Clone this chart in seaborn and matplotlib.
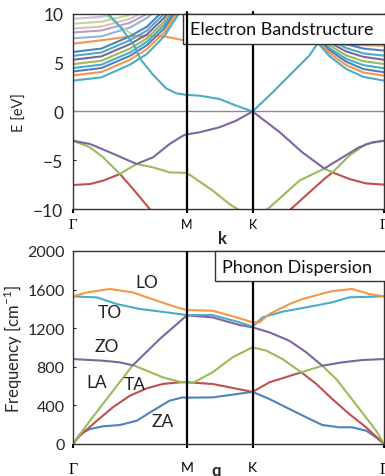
import matplotlib
matplotlib.use("Agg")
import matplotlib.pyplot as plt
from matplotlib.patches import Rectangle
import pandas as pd
import seaborn as sns

# high-symmetry path (graphene) : Gamma - M - K - Gamma
K_TICKS = [0.0, 1.0, 1.577, 2.732]
K_LABELS = ["Γ", "M", "K", "Γ"]

# ---- electron bands (eV) ----
val_top_k = [0, 0.149, 0.324, 0.558, 0.703, 0.849, 0.966, 1.0, 1.112, 1.287, 1.433, 1.577,
             1.813, 2.014, 2.207, 2.367, 2.513, 2.630, 2.732]
val_top_e = [-3.0, -3.33, -4.19, -5.38, -4.70, -3.33, -2.48, -2.35, -2.13, -1.62, -0.94, 0.0,
             -2.1, -4.19, -5.85, -4.70, -3.67, -3.16, -3.0]

val_mid_k = [0, 0.149, 0.265, 0.412, 0.558, 0.703, 0.849, 1.0, 1.051, 1.226, 1.375, 1.445, 1.577,
             1.710, 1.842, 1.988, 2.207, 2.279, 2.426, 2.572, 2.732]
val_mid_e = [-3.0, -3.67, -4.70, -6.41, -5.38, -5.73, -6.24, -6.3, -6.7, -8.1, -9.5, -10.0, -11.3,
             -10.0, -8.63, -7.09, -5.85, -6.24, -4.53, -3.33, -3.0]

val_low_k = [0, 0.149, 0.265, 0.412, 0.528, 0.674, 0.8, 1.0, 1.577, 1.8, 1.914, 2.060, 2.207,
             2.279, 2.426, 2.572, 2.732]
val_low_e = [-7.54, -7.44, -7.09, -6.41, -7.95, -10.0, -11.8, -13.5, -14.0, -11.2, -10.0, -8.46,
             -6.92, -6.24, -6.92, -7.37, -7.5]

pi_star_k = [0.2, 0.31, 0.42, 0.53, 0.59, 0.70, 0.82, 0.91, 1.0, 1.112, 1.287, 1.433, 1.577,
             1.754, 1.929, 2.075, 2.134, 2.25, 2.4]
pi_star_e = [11.3, 10.0, 8.6, 6.9, 5.4, 3.8, 2.35, 1.85, 1.7, 1.62, 1.28, 0.6, 0.0,
             1.97, 4.02, 5.72, 6.75, 8.3, 10.3]

faint_k = [0.2, 0.3, 0.42, 0.53, 0.62]
faint_e = [10.6, 9.8, 8.7, 7.8, 7.6]

cb_k = [0, 0.25, 0.5, 0.65, 0.8, 0.95, 1.2, 1.577, 1.9, 2.1, 2.25, 2.4, 2.55, 2.732]
cb1 = [3.16, 3.5, 4.8, 5.9, 7.7, 10.4, 13, 14, 11.5, 7.7, 5.7, 4.35, 3.55, 3.16]
cb2 = [3.7, 4.05, 5.3, 6.4, 8.1, 10.8, 13, 14, 11.6, 7.9, 6.0, 4.75, 4.0, 3.67]
cb3 = [4.1, 4.45, 5.7, 6.8, 8.5, 11.1, 13, 14, 11.7, 8.1, 6.3, 5.1, 4.35, 4.02]
cb4 = [4.45, 4.8, 6.05, 7.15, 8.85, 11.4, 13, 14, 11.8, 8.3, 6.5, 5.4, 4.75, 4.43]
cb5 = [4.85, 5.2, 6.45, 7.5, 9.2, 11.7, 13, 14, 11.9, 8.5, 6.8, 5.75, 5.15, 4.87]
cb6 = [5.3, 5.65, 6.9, 7.9, 9.6, 12.0, 13, 14, 12.0, 8.7, 7.1, 6.15, 5.6, 5.3]
cb7 = [5.7, 6.05, 7.3, 8.3, 10.0, 12.3, 13, 14, 12.1, 8.9, 7.4, 6.5, 5.95, 5.72]
cb8 = [6.1, 6.45, 7.7, 8.7, 10.4, 12.6, 13, 14, 12.2, 9.1, 7.7, 6.9, 6.45, 6.24]
cb9 = [6.95, 7.3, 7.7, 7.78, 7.7, 7.35, 7.1, 7.0, 7.1, 7.0, 6.9, 6.85, 6.8, 6.75]
cb10 = [7.5, 7.7, 8.6, 9.6, 11.0, 13, 14, 14, 13, 11, 9.5, 8.5, 7.8, 7.5]
cb11 = [8.1, 8.3, 9.1, 10.0, 11.5, 13.5, 14, 14, 13, 11.5, 10, 9.0, 8.4, 8.1]
cb12 = [8.5, 8.7, 9.5, 10.4, 12.0, 13.8, 14, 14, 13, 12, 10.5, 9.5, 8.8, 8.5]
cb13 = [9.0, 9.2, 9.9, 10.8, 12.5, 14, 14, 14, 13.5, 12.5, 11, 10, 9.3, 9.0]
cb14 = [9.5, 9.7, 10.4, 11.3, 13.0, 14, 14, 14, 14, 13, 11.5, 10.5, 9.8, 9.5]

# ---- phonon branches (cm^-1) ----
za_k = [0, 0.061, 0.149, 0.263, 0.412, 0.560, 0.701, 0.849, 0.963, 1.0, 1.226, 1.577,
        1.725, 1.900, 2.049, 2.189, 2.338, 2.452, 2.574, 2.662, 2.732]
za_w = [0, 104, 155, 183, 197, 241, 345, 449, 483, 480, 483, 540,
        466, 363, 276, 197, 173, 173, 138, 69, 0]

ta_k = [0, 0.061, 0.210, 0.350, 0.499, 0.648, 0.788, 0.937, 1.0, 1.226, 1.577,
        1.725, 2.005, 2.137, 2.277, 2.426, 2.574, 2.732]
ta_w = [0, 86, 241, 380, 500, 577, 622, 639, 640, 622, 540,
        639, 743, 622, 466, 311, 173, 0]

la_k = [0, 0.149, 0.324, 0.525, 0.648, 0.788, 0.937, 1.0, 1.051, 1.226, 1.401, 1.577,
        1.699, 1.839, 2.005, 2.189, 2.312, 2.426, 2.539, 2.662, 2.732]
la_w = [0, 241, 509, 818, 760, 691, 645, 638, 632, 743, 898, 1002,
        967, 881, 743, 811, 673, 500, 328, 138, 0]

zo_k = [0, 0.263, 0.412, 0.525, 0.762, 1.0, 1.226, 1.462, 1.577,
        1.725, 1.900, 2.049, 2.189, 2.364, 2.539, 2.732]
zo_w = [880, 863, 846, 815, 1088, 1333, 1312, 1233, 1209,
        1157, 1070, 950, 811, 846, 870, 880]

to_k = [0, 0.210, 0.385, 0.587, 0.823, 1.0, 1.226, 1.462, 1.577,
        1.664, 1.839, 2.049, 2.277, 2.426, 2.732]
to_w = [1530, 1519, 1450, 1399, 1364, 1336, 1336, 1261, 1215,
        1312, 1371, 1416, 1468, 1520, 1530]

lo_k = [0, 0.123, 0.324, 0.525, 0.736, 0.911, 1.0, 1.226, 1.436, 1.577,
        1.638, 1.725, 1.900, 2.014, 2.277, 2.452, 2.601, 2.732]
lo_w = [1530, 1571, 1606, 1571, 1485, 1416, 1388, 1381, 1312, 1261,
        1261, 1347, 1450, 1502, 1585, 1606, 1554, 1530]

BLUE, RED, GREEN, PURPLE, AQUA, ORANGE = "#4F81BD", "#C0504D", "#9BBB59", "#8064A2", "#4BACC6", "#F79646"

electron_bands = {
    "cb14": (cb_k, cb14), "cb13": (cb_k, cb13), "cb12": (cb_k, cb12), "cb11": (cb_k, cb11),
    "cb10": (cb_k, cb10), "faint": (faint_k, faint_e),
    "cb9": (cb_k, cb9), "cb8": (cb_k, cb8), "cb7": (cb_k, cb7), "cb6": (cb_k, cb6),
    "cb5": (cb_k, cb5), "cb4": (cb_k, cb4), "cb3": (cb_k, cb3), "cb2": (cb_k, cb2),
    "cb1": (cb_k, cb1), "pi*": (pi_star_k, pi_star_e),
    "v3": (val_low_k, val_low_e), "v2": (val_mid_k, val_mid_e), "v1": (val_top_k, val_top_e),
}
electron_colors = {
    "cb14": "#CCC1DA", "cb13": "#C3D69B", "cb12": "#E6B9B8", "cb11": "#B3A2C7",
    "cb10": "#95B3D7", "faint": "#C3D69B",
    "cb9": ORANGE, "cb8": BLUE, "cb7": AQUA, "cb6": PURPLE, "cb5": GREEN,
    "cb4": AQUA, "cb3": BLUE, "cb2": ORANGE, "cb1": AQUA, "pi*": AQUA,
    "v3": RED, "v2": GREEN, "v1": PURPLE,
}

phonon_branches = {
    "ZA": (za_k, za_w), "TA": (ta_k, ta_w), "LA": (la_k, la_w),
    "ZO": (zo_k, zo_w), "TO": (to_k, to_w), "LO": (lo_k, lo_w),
}
phonon_colors = {"ZA": BLUE, "TA": RED, "LA": GREEN, "ZO": PURPLE, "TO": AQUA, "LO": ORANGE}


def to_frame(bands, ycol):
    rows = []
    for name, (ks, ys) in bands.items():
        for k, y in zip(ks, ys):
            rows.append({"k": k, ycol: y, "band": name})
    return pd.DataFrame(rows)


def style_axes(ax, labelpad_x, gamma_size, ks_size):
    for s in ax.spines.values():
        s.set_color("#333333")
        s.set_linewidth(1.0)
    ax.set_xlim(K_TICKS[0], K_TICKS[-1])
    ax.set_xticks(K_TICKS, K_LABELS)
    ax.tick_params(axis="x", bottom=True, direction="out", length=3, width=1.5,
                   pad=labelpad_x, labelsize=ks_size, colors="black")
    ax.tick_params(axis="y", left=True, direction="in", length=2, width=0.8)
    for lbl in ax.get_xticklabels():
        if lbl.get_text() == "Γ":
            lbl.set_fontfamily("Liberation Serif")
            lbl.set_fontsize(gamma_size)


def add_title_box(ax, x0, y0, text, tx, ty):
    ax.add_patch(Rectangle((x0, y0), 1.2 - x0, 1.0 - y0, transform=ax.transAxes,
                           facecolor="white", edgecolor="#333333", lw=1.0,
                           zorder=5, clip_on=False))
    ax.text(tx, ty, text, transform=ax.transAxes, ha="left", va="center",
            fontsize=13, color="#111111", zorder=7)


sns.set_theme(style="white")
plt.rcParams["font.family"] = ["Lato", "DejaVu Sans"]
plt.rcParams["mathtext.fontset"] = "custom"
plt.rcParams["mathtext.rm"] = "Lato"

fig = plt.figure(figsize=(3.85, 4.77), dpi=100)
ax1 = fig.add_axes([0.1896, 0.5597, 0.808, 0.409])
ax2 = fig.add_axes([0.1896, 0.0671, 0.808, 0.4046])

# electron bandstructure
ax1.axhline(0, color="#8c8c8c", lw=1.0, zorder=1)
sns.lineplot(data=to_frame(electron_bands, "E"), x="k", y="E", hue="band",
             palette=electron_colors, hue_order=list(electron_bands),
             estimator=None, sort=False, legend=False, linewidth=1.5, ax=ax1)
ax1.set_ylim(-10, 10)
ax1.set_yticks([-10, -5, 0, 5, 10])
ax1.tick_params(axis="y", labelsize=12.5, pad=7)
style_axes(ax1, 3.5, 10.5, 9)
ax1.axvline(K_TICKS[1], ymax=1.012, color="black", lw=1.6, zorder=6, clip_on=False)
ax1.axvline(K_TICKS[2], ymax=1.012, color="black", lw=1.6, zorder=3, clip_on=False)
add_title_box(ax1, 0.354, 0.846, "Electron Bandstructure", 0.376, 0.922)
ax1.set_xlabel("k", fontweight="bold", fontsize=12)
ax1.xaxis.set_label_coords(0.481, -0.11)
ax1.set_ylabel("E [eV]", fontsize=10.5)
ax1.yaxis.set_label_coords(-0.148, 0.5)

# phonon dispersion
sns.lineplot(data=to_frame(phonon_branches, "w"), x="k", y="w", hue="band",
             palette=phonon_colors, hue_order=list(phonon_branches),
             estimator=None, sort=False, legend=False, linewidth=1.5, ax=ax2)
ax2.set_ylim(0, 2000)
ax2.set_yticks([0, 400, 800, 1200, 1600, 2000])
ax2.tick_params(axis="y", labelsize=11.5, pad=6)
style_axes(ax2, 9, 11.5, 10)
ax2.axvline(K_TICKS[1], color="black", lw=1.6, zorder=6)
ax2.axvline(K_TICKS[2], color="black", lw=1.6, zorder=3)
add_title_box(ax2, 0.457, 0.845, "Phonon Dispersion", 0.479, 0.917)
for name, (k, w) in {"LO": (0.645, 1682), "TO": (0.324, 1371), "ZO": (0.30, 1015),
                     "LA": (0.21, 639), "TA": (0.543, 622), "ZA": (0.79, 235)}.items():
    ax2.text(k, w, name, ha="center", va="center", fontsize=12.5, color="#222222")
ax2.set_xlabel("q", fontweight="bold", fontsize=12)
ax2.xaxis.set_label_coords(0.46, -0.093)
ax2.set_ylabel("Frequency [cm$^{-1}$]", fontsize=12)
ax2.yaxis.set_label_coords(-0.154, 0.5)

fig.savefig("out.png", dpi=100)
plt.close(fig)
